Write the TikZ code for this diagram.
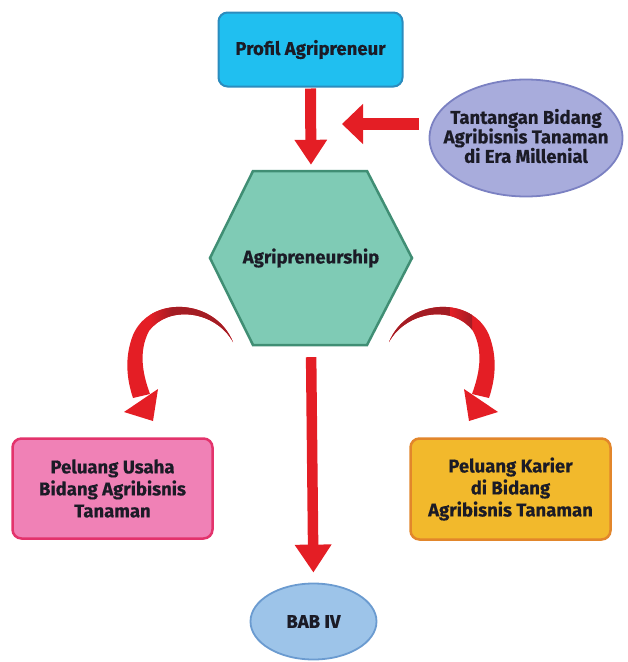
\documentclass[tikz,border=0pt]{standalone}
\usepackage{fontspec}
\setmainfont{Fira Sans}[BoldFeatures={FakeBold=0.4}]
\usetikzlibrary{shapes.geometric,arrows.meta,calc}
\definecolor{txtc}{HTML}{1B1B26}
\definecolor{cyanfill}{HTML}{20BFF0}
\definecolor{cyanedge}{HTML}{2B8CBE}
\definecolor{lavfill}{HTML}{A8ACDC}
\definecolor{lavedge}{HTML}{7B81C2}
\definecolor{hexfill}{HTML}{7FCBB5}
\definecolor{hexedge}{HTML}{408E74}
\definecolor{pinkfill}{HTML}{F081B6}
\definecolor{pinkedge}{HTML}{E3336C}
\definecolor{yelfill}{HTML}{F2B92C}
\definecolor{yeledge}{HTML}{E2862B}
\definecolor{babfill}{HTML}{9DC4E9}
\definecolor{babedge}{HTML}{6B9BD0}
\definecolor{arrred}{HTML}{E41E25}
\definecolor{arrdark}{HTML}{A31D24}
\begin{document}
\begin{tikzpicture}[x=1pt,y=-1pt,
  lbl/.style={font=\bfseries\fontsize{18.5}{22}\selectfont, text=txtc, align=center, inner sep=0pt},
  rbox/.style={lbl, rectangle, rounded corners=9pt, line width=2.5pt},
  oval/.style={ellipse, line width=1.8pt, inner sep=0pt},
  redarrow/.style={draw=arrred, line width=#1, line cap=butt},
]
\useasboundingbox (0,0) rectangle (628,662);

% nodes
\node[rbox, fill=cyanfill, draw=cyanedge, line width=2pt, minimum width=184, minimum height=74] (prof) at (310.5,49.5) {Profil Agripreneur};
\node[oval, fill=lavfill, draw=lavedge, minimum width=193, minimum height=117] (tant) at (526,138) {};
\node[lbl, font=\bfseries\fontsize{18.5}{19.5}\selectfont] (tanttxt) at ($(tant.center)+(0,-2)$) {Tantangan Bidang\\Agribisnis Tanaman\\di Era Millenial};

\draw[fill=hexfill, draw=hexedge, line width=2.5pt, line join=miter]
  (253,171) -- (367,171) -- (412,258) -- (367,345) -- (253,345) -- (210,258) -- cycle;
\node[lbl, minimum width=202, minimum height=174] (hex) at (311,258) {Agripreneurship};

\node[rbox, fill=pinkfill, draw=pinkedge, minimum width=200, minimum height=100] (usaha) at (112.5,488.5) {Peluang Usaha\\Bidang Agribisnis\\Tanaman};
\node[rbox, fill=yelfill, draw=yeledge, minimum width=200, minimum height=101] (karier) at (510.5,489) {Peluang Karier\\di Bidang\\Agribisnis Tanaman};
\node[oval, fill=babfill, draw=babedge, minimum width=126, minimum height=76] (bab) at (313.5,621.5) {};
\node[lbl] (babtxt) at (bab.center) {BAB IV};

% straight arrows
\draw[redarrow=11pt, -{Triangle[width=31pt,length=25pt]}, shorten <=1pt, shorten >=6pt] (prof.south) -- (hex.north);
\coordinate (lt) at (342,124);
\draw[redarrow=12pt, -{Triangle[width=39pt,length=21pt]}] ($(tant.west)+(-10,-14)$) -- (lt);
\draw[redarrow=10.5pt, -{Triangle[width=35pt,length=28pt]}, shorten <=12pt, shorten >=10pt] (hex.south) -- (bab.north);

% curved arrows
\def\curvedarrow{%
  \fill[arrred] (233,342) .. controls (215,298) and (150,295) .. (133,335)
     .. controls (124,358) and (127,380) .. (133,398)
     -- (150,394) .. controls (143,375) and (138,352) .. (149,331)
     .. controls (168,305) and (215,310) .. (233,342) -- cycle;
  \begin{scope}
    \clip (233,342) .. controls (215,298) and (150,295) .. (133,335)
     -- (149,331) .. controls (168,305) and (215,310) .. (233,342) -- cycle;
    \shade[left color=arrred, right color=arrdark] (150,285) rectangle (172,350);
    \fill[arrdark] (172,285) rectangle (240,350);
  \end{scope}
  \fill[arrred] (124,412) -- (158,389) -- (153,421) -- cycle;
}
\curvedarrow
\begin{scope}[xshift=622pt, xscale=-1]
\curvedarrow
\end{scope}
\end{tikzpicture}
\end{document}
